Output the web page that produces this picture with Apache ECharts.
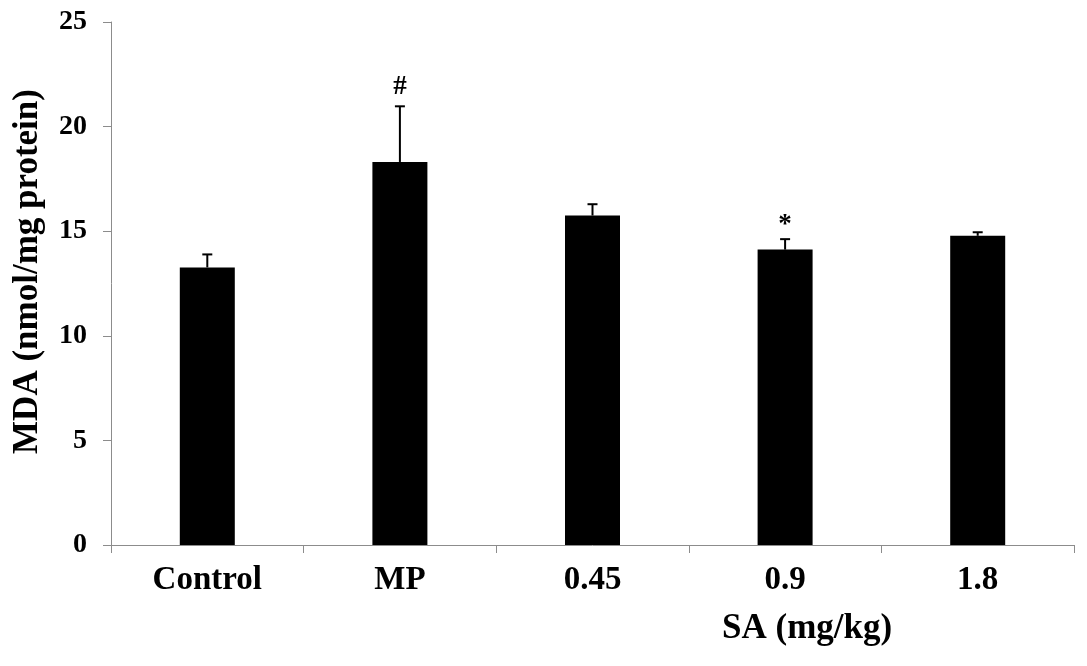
<!DOCTYPE html>
<html>
<head>
<meta charset="utf-8">
<script src="https://cdn.jsdelivr.net/npm/echarts@6/dist/echarts.min.js"></script>
<style>html,body{margin:0;padding:0;background:#fff}#c{width:1087px;height:666px}</style>
</head>
<body>
<div id="c"></div>
<script>
const categories = ['Control', 'MP', '0.45', '0.9', '1.8'];
const means = [13.27, 18.31, 15.75, 14.12, 14.78];
const errors = [0.62, 2.66, 0.54, 0.50, 0.17];
const marks = ['', '#', '', '*', ''];
const yTicks = [0, 5, 10, 15, 20, 25];

const FONT = "'Liberation Serif', 'Times New Roman', serif";
const chart = echarts.init(document.getElementById('c'));
chart.setOption({
  backgroundColor: '#fff',
  animation: false,
  grid: { left: 111, right: 13, top: 22, bottom: 121, containLabel: false },
  xAxis: {
    type: 'category',
    data: categories,
    axisLine: { lineStyle: { color: '#8c8c8c', width: 1 } },
    axisTick: { show: true, length: 8, alignWithLabel: false, lineStyle: { color: '#8c8c8c' } },
    axisLabel: { color: '#000', fontFamily: FONT, fontWeight: 'bold', fontSize: 33, margin: 19, interval: 0 }
  },
  yAxis: {
    type: 'value',
    min: yTicks[0],
    max: yTicks[yTicks.length - 1],
    interval: 5,
    name: 'MDA (nmol/mg protein)',
    nameLocation: 'middle',
    nameGap: 66,
    nameRotate: 90,
    nameTextStyle: { color: '#000', fontFamily: FONT, fontWeight: 'bold', fontSize: 35, padding: [0, 0, 0, 24] },
    splitLine: { show: false },
    axisLine: { show: true, lineStyle: { color: '#8c8c8c', width: 1 } },
    axisTick: { show: true, length: 8, lineStyle: { color: '#8c8c8c' } },
    axisLabel: { color: '#000', fontFamily: FONT, fontWeight: 'bold', fontSize: 28, margin: 24 }
  },
  graphic: [{
    type: 'text',
    left: 722,
    top: 611,
    style: { text: 'SA (mg/kg)', fill: '#000', font: "bold 35px 'Liberation Serif', 'Times New Roman', serif" }
  }],
  series: [
    {
      type: 'bar',
      data: means,
      barWidth: 55,
      itemStyle: { color: '#000' },
      z: 2
    },
    {
      type: 'custom',
      z: 3,
      data: means.map((m, i) => [i, m, errors[i]]),
      renderItem: function (params, api) {
        const i = api.value(0);
        const m = api.value(1);
        const e = api.value(2);
        const p0 = api.coord([i, m]);
        const p1 = api.coord([i, m + e]);
        const children = [
          { type: 'line', shape: { x1: p0[0], y1: p0[1], x2: p1[0], y2: p1[1] }, style: { stroke: '#000', lineWidth: 2 } },
          { type: 'line', shape: { x1: p1[0] - 5, y1: p1[1], x2: p1[0] + 5, y2: p1[1] }, style: { stroke: '#000', lineWidth: 2 } }
        ];
        const mk = marks[i];
        if (mk) {
          children.push({
            type: 'text',
            style: {
              text: mk,
              x: p1[0],
              y: p1[1] - (mk === '*' ? 14 : 19),
              textAlign: 'center',
              textVerticalAlign: 'middle',
              fill: '#000',
              font: "bold 27px 'Liberation Serif', 'Times New Roman', serif"
            }
          });
        }
        return { type: 'group', children: children };
      }
    }
  ]
});
</script>
</body>
</html>
